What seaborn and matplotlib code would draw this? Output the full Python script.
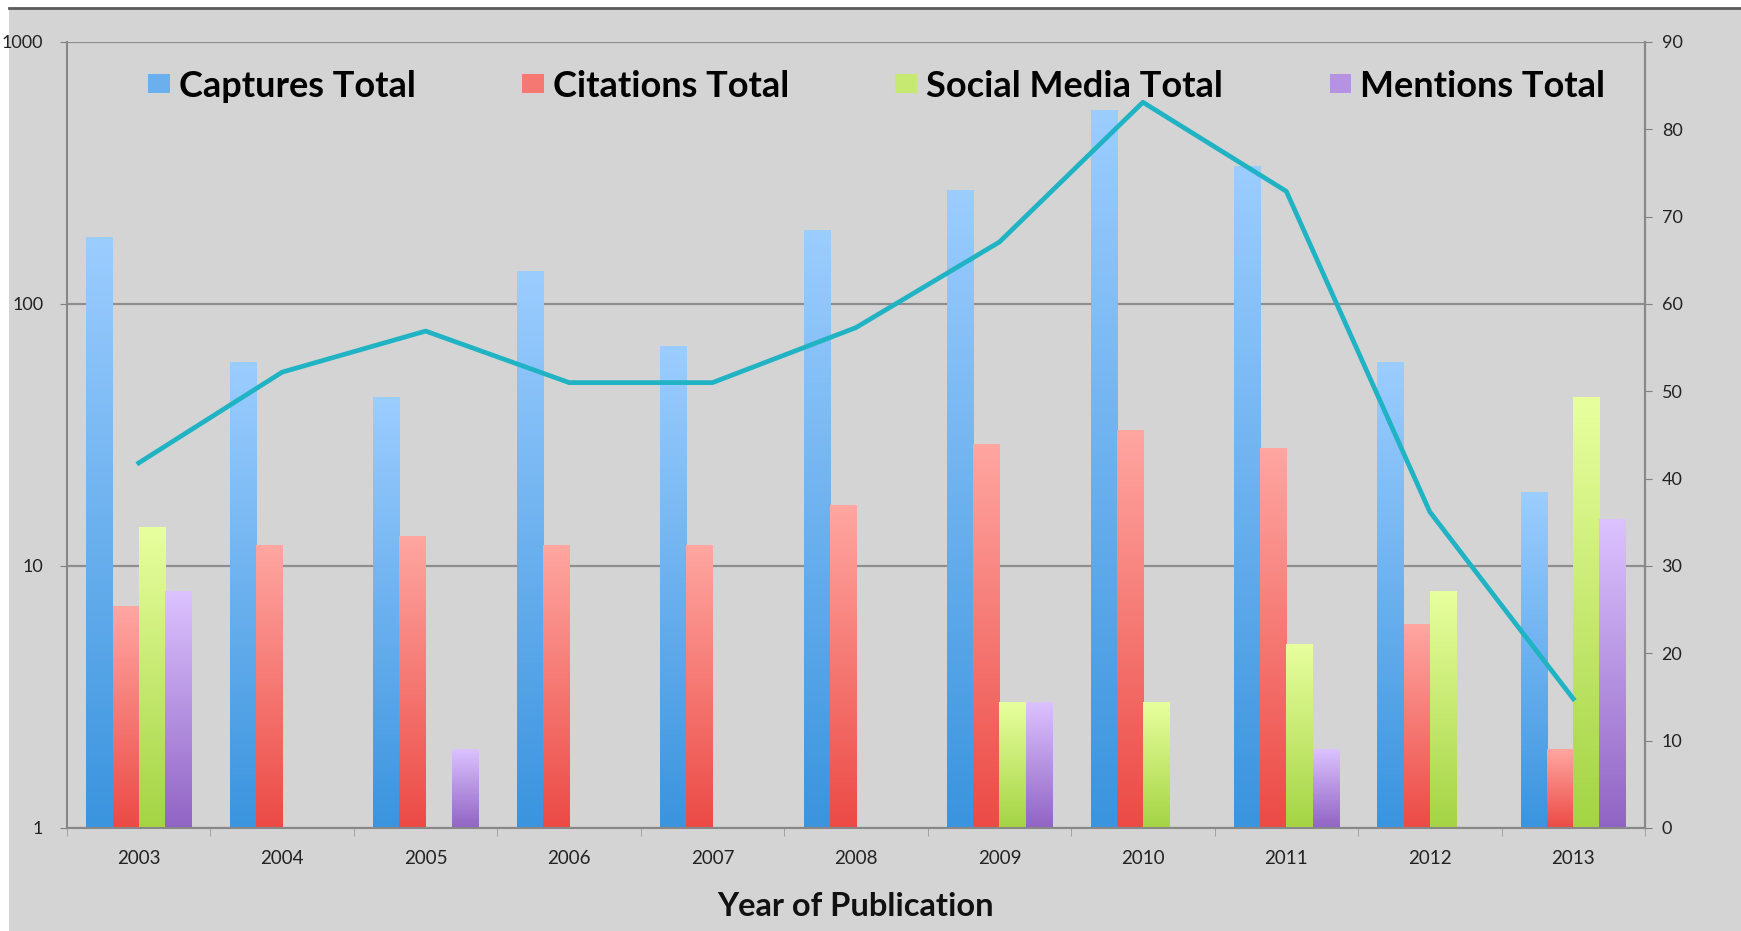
import numpy as np
import pandas as pd
import matplotlib.pyplot as plt
import matplotlib.colors as mcolors
from matplotlib.patches import Rectangle, Patch
from matplotlib.lines import Line2D
import seaborn as sns

# Values
years = ['2003', '2004', '2005', '2006', '2007', '2008',
         '2009', '2010', '2011', '2012', '2013']
captures = [180, 60, 44, 133, 69, 190, 270, 550, 335, 60, 19]
citations = [7, 12, 13, 12, 12, 17, 29, 33, 28, 6, 2]
social_media = [14, np.nan, np.nan, np.nan, np.nan, np.nan, 3, 3, 5, 8, 44]
mentions = [8, np.nan, 2, np.nan, np.nan, np.nan, 3, np.nan, 2, np.nan, 15]
right_series = [41.8, 52.2, 56.9, 51.0, 51.0, 57.3, 67.1, 83.1, 72.9, 36.2, 14.8]

series_names = ['Captures Total', 'Citations Total',
                'Social Media Total', 'Mentions Total']
# (bottom colour, top colour) of each bar gradient
grad_colors = [('#3a94de', '#9ccdff'),
               ('#ec4a45', '#ffa6a1'),
               ('#a4d444', '#e8ff9e'),
               ('#9064c4', '#dcc2ff')]
mid_colors = [mcolors.to_hex((np.array(mcolors.to_rgb(a)) + np.array(mcolors.to_rgb(b))) / 2)
              for a, b in grad_colors]

df = pd.DataFrame({
    'year': years * 4,
    'series': np.repeat(series_names, len(years)),
    'value': captures + citations + social_media + mentions,
}).dropna()

bg = '#d4d4d4'
plt.rcParams['font.family'] = ['Lato', 'DejaVu Sans']

fig = plt.figure(figsize=(17.41, 9.31), dpi=100, facecolor='white')
fig.patches.append(Rectangle((9 / 1741, 0), 1, (931 - 9) / 931,
                             transform=fig.transFigure, facecolor=bg,
                             edgecolor='none', zorder=-10))
fig.add_artist(Line2D([9 / 1741, 1], [(931 - 8) / 931] * 2,
                      transform=fig.transFigure, color='#5a5a5a', lw=2))

ax = fig.add_axes([67 / 1741, 103 / 931, 1578 / 1741, 786 / 931])
ax.set_facecolor(bg)

sns.barplot(data=df, x='year', y='value', hue='series', order=years,
            hue_order=series_names, palette=mid_colors, saturation=1,
            width=0.73, legend=False, ax=ax, zorder=2)
ax.set_yscale('log')
ax.set_ylim(1, 1000)
ax.set_xlim(-0.5, len(years) - 0.5)

# gradient fill for each bar
for container, (c_bot, c_top) in zip(ax.containers, grad_colors):
    cmap = mcolors.LinearSegmentedColormap.from_list('g', [c_bot, c_top])
    for bar in container.patches:
        ext = bar.get_window_extent()
        (x0, y0), (x1, y1) = ax.transAxes.inverted().transform(
            [[ext.x0, ext.y0], [ext.x1, ext.y1]])
        y0 = max(y0, 0)
        ax.imshow(np.linspace(1, 0, 256).reshape(-1, 1), cmap=cmap,
                  extent=[x0, x1, y0, y1], transform=ax.transAxes,
                  aspect='auto', zorder=2.5, interpolation='bilinear')
ax.set_ylim(1, 1000)
ax.set_xlim(-0.5, len(years) - 0.5)

ax.yaxis.grid(True, which='major', color='#8e8e8e', lw=1.6, zorder=1)
ax.set_axisbelow(True)
ax.set_yticks([1, 10, 100, 1000])
ax.set_yticklabels(['1', '10', '100', '1000'])
ax.yaxis.set_minor_locator(plt.NullLocator())
ax.tick_params(axis='y', which='major', labelsize=13, length=5,
               color='#808080', pad=12, labelcolor='#222222')
ax.set_xticks(range(len(years)))
ax.set_xticklabels(years)
ax.set_xticks(np.arange(len(years) + 1) - 0.5, minor=True)
ax.tick_params(axis='x', which='major', length=0, labelsize=13.5,
               pad=16, labelcolor='#222222')
ax.tick_params(axis='x', which='minor', length=6, color='#9a9a9a')
ax.set_xlabel('Year of Publication', fontsize=23.5, fontweight='bold',
              labelpad=18, color='#111111')
ax.set_ylabel('')
for side in ['left', 'right', 'bottom']:
    ax.spines[side].set_color('#888888')
    ax.spines[side].set_linewidth(1.5)
ax.spines['top'].set_visible(False)

ax2 = ax.twinx()
sns.lineplot(x=years, y=right_series, ax=ax2, color='#1fb3c4', lw=3.4,
             zorder=5)
ax2.set_ylim(0, 90)
ax2.set_yticks(range(0, 91, 10))
ax2.tick_params(axis='y', labelsize=13, length=5, color='#808080',
                pad=7, labelcolor='#222222')
for sp in ax2.spines.values():
    sp.set_visible(False)
ax2.spines['right'].set_visible(True)
ax2.spines['right'].set_color('#888888')
ax2.spines['right'].set_linewidth(1.5)
ax2.set_xlim(-0.5, len(years) - 0.5)

handles = [Patch(facecolor=c, edgecolor='none') for c in mid_colors]
leg = ax2.legend(handles, series_names, loc='center', ncol=4,
                 bbox_to_anchor=(0.513, 0.944), frameon=False,
                 prop={'family': 'Lato', 'weight': 'bold', 'size': 26},
                 handlelength=0.6, handleheight=0.45, handletextpad=0.25,
                 columnspacing=2.95)

plt.savefig('out.png', dpi=100, facecolor='white')
